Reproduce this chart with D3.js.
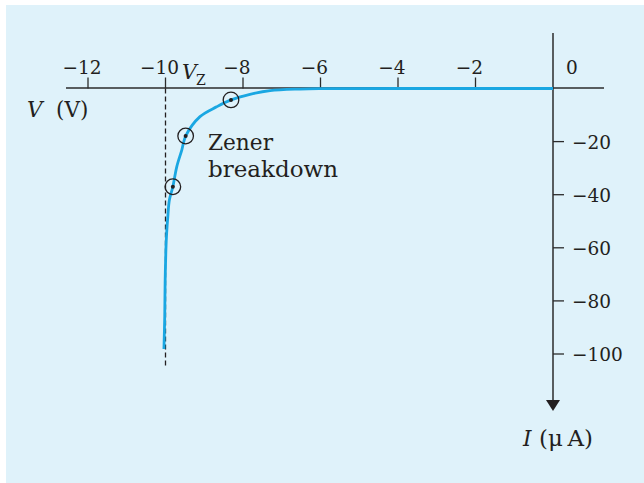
<!DOCTYPE html>
<html>
<head>
<meta charset="utf-8">
<script src="https://cdn.jsdelivr.net/npm/d3@7"></script>
<style>
  html, body { margin: 0; padding: 0; background: #ffffff; }
  svg { display: block; }
  text { font-family: "DejaVu Serif", "Liberation Serif", serif; fill: #231f20; }
</style>
</head>
<body>
<svg id="chart" width="644" height="483"></svg>
<script>
// ---- data ----
const xTicks = [-12, -10, -8, -6, -4, -2, 0];
const yTicks = [-20, -40, -60, -80, -100];
const curveV = [-10.04, -10.02, -10.01, -9.99, -9.97, -9.94, -9.90, -9.81, -9.71, -9.58, -9.48, -9.11, -8.68, -8.31, -7.82, -7.30, -6.53, -6.0, -3.95, 0];
const curveI = [-98.1, -86.0, -73.3, -60.8, -54.4, -48.3, -42.0, -37.0, -29.5, -23.2, -17.9, -10.6, -6.9, -4.3, -2.2, -0.8, -0.2, -0.05, 0, 0];
const markedV = [-8.31, -9.48, -9.81];
const markedI = [-4.3, -17.9, -37.0];
const zenerV = -10;
const zenerLineI = [0, -105];

// ---- layout ----
const svg = d3.select("#chart");
const x = d3.scaleLinear().domain([-12, 0]).range([88, 553]);
const y = d3.scaleLinear().domain([0, -100]).range([88.5, 354]);
const axisColor = "#2b2b2b";

svg.append("rect").attr("x", 6).attr("y", 5).attr("width", 638).attr("height", 478).attr("fill", "#dff2fa");

// horizontal axis line
svg.append("line").attr("x1", 66).attr("x2", 604).attr("y1", y(0) - 0.5).attr("y2", y(0) - 0.5)
  .attr("stroke", axisColor).attr("stroke-width", 1.5);
// vertical axis line with arrow
svg.append("line").attr("x1", x(0)).attr("x2", x(0)).attr("y1", 33).attr("y2", 402)
  .attr("stroke", axisColor).attr("stroke-width", 1.5);
svg.append("path").attr("d", `M${x(0) - 7},400 L${x(0) + 7},400 L${x(0)},411 Z`).attr("fill", "#231f20");

// x ticks
const xt = svg.append("g");
xTicks.filter(d => d !== 0).forEach(d => {
  xt.append("line").attr("x1", x(d)).attr("x2", x(d)).attr("y1", y(0) - 11).attr("y2", y(0))
    .attr("stroke", axisColor).attr("stroke-width", 1.3);
  xt.append("text").attr("x", x(d) - 6).attr("y", 74).attr("text-anchor", "middle")
    .attr("font-size", 18.5).text("\u2212" + Math.abs(d));
});
xt.append("text").attr("x", x(0) + 13).attr("y", 74).attr("font-size", 18.5).text("0");

// y ticks
const yt = svg.append("g");
yTicks.forEach(d => {
  yt.append("line").attr("x1", x(0)).attr("x2", x(0) + 11).attr("y1", y(d)).attr("y2", y(d))
    .attr("stroke", axisColor).attr("stroke-width", 1.3);
  yt.append("text").attr("x", x(0) + 19).attr("y", y(d) + 7).attr("font-size", 18.5)
    .text("\u2212" + Math.abs(d));
});

// zener dashed line
svg.append("line").attr("x1", x(zenerV)).attr("x2", x(zenerV))
  .attr("y1", y(zenerLineI[0])).attr("y2", y(zenerLineI[1]))
  .attr("stroke", "#231f20").attr("stroke-width", 1.3).attr("stroke-dasharray", "5,3");

// curve
const pts = curveV.map((v, i) => [v, curveI[i]]);
svg.append("path").datum(pts)
  .attr("d", d3.line().x(d => x(d[0])).y(d => y(d[1])).curve(d3.curveCatmullRom.alpha(0.5)))
  .attr("fill", "none").attr("stroke", "#1aa7e2").attr("stroke-width", 2.8);

// marked points
markedV.forEach((v, i) => {
  svg.append("circle").attr("cx", x(v)).attr("cy", y(markedI[i])).attr("r", 7.8)
    .attr("fill", "none").attr("stroke", "#231f20").attr("stroke-width", 1.3);
  svg.append("circle").attr("cx", x(v)).attr("cy", y(markedI[i])).attr("r", 2)
    .attr("fill", "#231f20");
});

// labels
const vl = svg.append("text").attr("x", 27).attr("y", 117).attr("font-size", 21.5);
vl.append("tspan").attr("font-style", "italic").text("V");
vl.append("tspan").attr("x", 56).text("(V)");

const vz = svg.append("text").attr("x", 182).attr("y", 79).attr("font-size", 20.5);
vz.append("tspan").attr("font-style", "italic").text("V");
vz.append("tspan").attr("x", 196).attr("y", 85).attr("font-size", 14).text("Z");

svg.append("text").attr("x", 208).attr("y", 150).attr("font-size", 21.5)
  .attr("textLength", 65).attr("lengthAdjust", "spacingAndGlyphs").text("Zener");
svg.append("text").attr("x", 208).attr("y", 177).attr("font-size", 21.5)
  .attr("textLength", 130).attr("lengthAdjust", "spacingAndGlyphs").text("breakdown");

const il = svg.append("text").attr("x", 523).attr("y", 446).attr("font-size", 21.5);
il.append("tspan").attr("font-style", "italic").text("I");
il.append("tspan").attr("x", 539).attr("textLength", 54).attr("lengthAdjust", "spacingAndGlyphs").text("(\u03bc\u2009A)");
</script>
</body>
</html>
